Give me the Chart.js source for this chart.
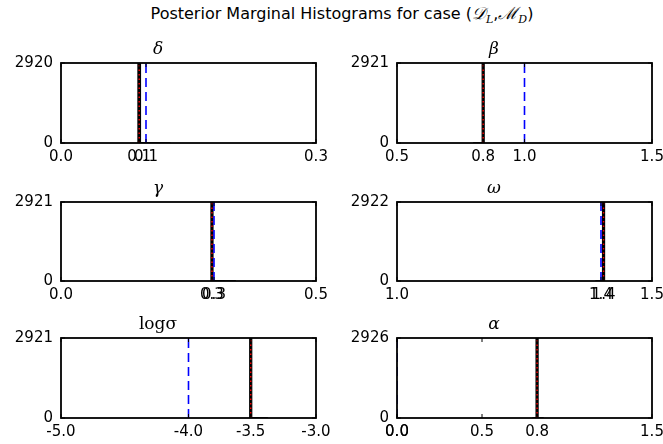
<!DOCTYPE html>
<html>
<head>
<meta charset="utf-8">
<script src="https://cdn.jsdelivr.net/npm/chart.js@4.4.1/dist/chart.umd.min.js"></script>
<style>
  body { margin: 0; background: #fff; width: 663px; height: 444px; overflow: hidden; position: relative; }
  #suptitle { position: absolute; left: 0; width: 684px; top: 1px; text-align: center;
              font-family: "DejaVu Sans"; font-size: 16px; color: #000; white-space: nowrap; }
  #suptitle .m { font-family: "DejaVu Serif"; font-size: 17px; font-style: italic; }
  #suptitle sub { font-size: 11px; font-style: italic; font-family: "DejaVu Serif"; }
  .panel { position: absolute; }
</style>
</head>
<body>
<div id="suptitle">Posterior Marginal Histograms for case (<span class="m">𝒟</span><sub>L</sub>,<span class="m">ℳ</span><sub>D</sub>)</div>
<canvas class="panel" id="p0"></canvas>
<canvas class="panel" id="p1"></canvas>
<canvas class="panel" id="p2"></canvas>
<canvas class="panel" id="p3"></canvas>
<canvas class="panel" id="p4"></canvas>
<canvas class="panel" id="p5"></canvas>
<script>
// parameter names, axis limits, reference lines
const panelTitles = ['δ', 'β', 'γ', 'ω', 'logσ', 'α'];
const xMins = [0.0, 0.5, 0.0, 1.0, -5.0, 0.0];
const xMaxs = [0.3, 1.5, 0.5, 1.5, -3.0, 1.5];
const yMaxs = [2920, 2921, 2921, 2922, 2921, 2926];
const trueVals = [0.1, 1.0, 0.3, 1.4, -4.0, 0.0];   // blue dashed
const meanVals = [0.092, 0.838, 0.296, 1.405, -3.512, 0.824]; // red dotted
const extraTicks = [[], [], [], [], [], [0.5]];

// histogram bins (edges) and counts
const deltaEdges = [0.0905, 0.0935, 0.101, 0.115, 0.128];
const deltaCounts = [2920, 12, 8, 4];
const betaEdges = [0.80, 0.834, 0.842];
const betaCounts = [10, 2921];
const gammaEdges = [0.294, 0.298, 0.32, 0.342];
const gammaCounts = [2921, 15, 6];
const omegaEdges = [1.39, 1.403, 1.407];
const omegaCounts = [8, 2922];
const sigmaEdges = [-3.52, -3.504, -3.45, -3.38];
const sigmaCounts = [2921, 12, 5];
const alphaEdges = [0.80, 0.818, 0.830, 0.86];
const alphaCounts = [6, 2926, 5];

const histEdges = [deltaEdges, betaEdges, gammaEdges, omegaEdges, sigmaEdges, alphaEdges];
const histCounts = [deltaCounts, betaCounts, gammaCounts, omegaCounts, sigmaCounts, alphaCounts];

// plot-area boxes
const colLeft = [61, 397];
const colRight = [316, 652];
const rowTop = [64, 203, 339];
const rowBottom = [143, 281, 418];
const canvasLeft = [0, 336];
const canvasRight = [330, 663];
const titleH = 24;
const xAxisH = 26;

function stepOutline(edges, counts) {
    let pts = [{x: edges[0], y: 0}];
    for (let i = 0; i < counts.length; i++) {
        pts.push({x: edges[i], y: counts[i]});
        pts.push({x: edges[i + 1], y: counts[i]});
    }
    pts.push({x: edges[edges.length - 1], y: 0});
    return pts;
}

const framePlugin = {
    id: 'frame',
    afterDraw(chart) {
        const ctx = chart.ctx;
        const a = chart.chartArea;
        ctx.save();
        ctx.strokeStyle = '#000';
        ctx.lineWidth = 1;
        const xs = chart.scales.x, ys = chart.scales.y;
        ctx.beginPath();
        xs.ticks.forEach(t => {
            const px = xs.getPixelForValue(t.value);
            ctx.moveTo(px, a.bottom); ctx.lineTo(px, a.bottom - 4);
            ctx.moveTo(px, a.top); ctx.lineTo(px, a.top + 4);
        });
        ys.ticks.forEach(t => {
            const py = ys.getPixelForValue(t.value);
            ctx.moveTo(a.left, py); ctx.lineTo(a.left + 4, py);
            ctx.moveTo(a.right, py); ctx.lineTo(a.right - 4, py);
        });
        ctx.stroke();
        ctx.lineWidth = 1.8;
        ctx.strokeRect(a.left, a.top, a.right - a.left, a.bottom - a.top);
        ctx.restore();
    }
};

for (let i = 0; i < 6; i++) {
    const col = i % 2, row = Math.floor(i / 2);
    const cv = document.getElementById('p' + i);
    const w = canvasRight[col] - canvasLeft[col];
    const h = titleH + (rowBottom[row] - rowTop[row]) + xAxisH;
    cv.style.left = canvasLeft[col] + 'px';
    cv.style.top = (rowTop[row] - titleH) + 'px';
    cv.style.width = w + 'px';
    cv.style.height = h + 'px';
    cv.width = w; cv.height = h;

    const xTicks = [xMins[i], trueVals[i], meanVals[i], xMaxs[i]].concat(extraTicks[i]);
    const yTop = yMaxs[i];

    new Chart(cv, {
        type: 'scatter',
        data: {
            datasets: [
                {
                    data: stepOutline(histEdges[i], histCounts[i]),
                    order: 3,
                    showLine: true,
                    borderColor: '#000',
                    backgroundColor: '#000',
                    borderWidth: 1.2,
                    fill: 'origin',
                    pointRadius: 0
                },
                {
                    data: [{x: trueVals[i], y: 0}, {x: trueVals[i], y: yTop}],
                    order: 2,
                    showLine: true,
                    borderColor: '#0000ff',
                    borderWidth: 1.6,
                    borderDash: [9, 5],
                    pointRadius: 0
                },
                {
                    data: [{x: meanVals[i], y: 0}, {x: meanVals[i], y: yTop}],
                    order: 1,
                    showLine: true,
                    borderColor: '#ff0000',
                    borderWidth: 1.4,
                    borderDash: [1.5, 3],
                    pointRadius: 0
                }
            ]
        },
        options: {
            responsive: false,
            animation: false,
            layout: { padding: { left: 0, right: canvasRight[col] - colRight[col], top: 0, bottom: 0 } },
            plugins: {
                legend: { display: false },
                tooltip: { enabled: false },
                title: {
                    display: true,
                    text: panelTitles[i],
                    color: '#000',
                    font: { family: 'DejaVu Serif', size: 17, weight: 'normal',
                            style: i === 4 ? 'normal' : 'italic', lineHeight: 20 / 17 },
                    padding: { top: 0, bottom: 3 }
                }
            },
            scales: {
                x: {
                    type: 'linear',
                    min: xMins[i],
                    max: xMaxs[i],
                    grid: { display: false, drawTicks: false },
                    border: { display: false },
                    afterBuildTicks: axis => { axis.ticks = xTicks.map(v => ({value: v})); },
                    afterFit: s => { s.height = xAxisH; s.paddingLeft = 0; s.paddingRight = 0; },
                    ticks: {
                        autoSkip: false,
                        maxRotation: 0,
                        padding: 5,
                        color: '#000',
                        font: { family: 'DejaVu Sans', size: 15 },
                        callback: v => Number(v).toFixed(1)
                    }
                },
                y: {
                    min: 0,
                    max: yTop,
                    grid: { display: false, drawTicks: false },
                    border: { display: false },
                    afterBuildTicks: axis => { axis.ticks = [{value: 0}, {value: yTop}]; },
                    afterFit: s => { s.width = colLeft[col] - canvasLeft[col]; s.paddingTop = 0; s.paddingBottom = 0; },
                    ticks: {
                        autoSkip: false,
                        padding: 8,
                        color: '#000',
                        font: { family: 'DejaVu Sans', size: 15 },
                        callback: v => String(v)
                    }
                }
            }
        },
        plugins: [framePlugin]
    });
}
</script>
</body>
</html>
